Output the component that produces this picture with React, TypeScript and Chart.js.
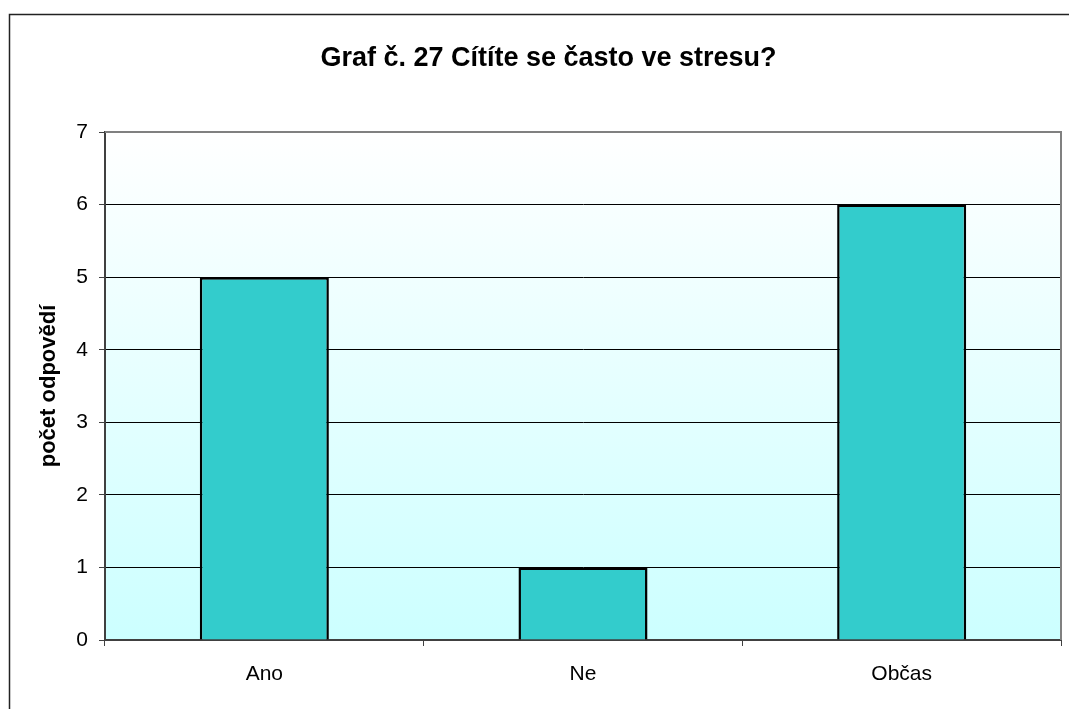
import React, { useEffect, useRef } from "react";
import { Chart, registerables } from "chart.js";

Chart.register(...registerables);

const categories = ["Ano", "Ne", "Občas"];
const counts = [5, 1, 6];
const chartTitle = "Graf č. 27 Cítíte se často ve stresu?";
const yAxisTitle = "počet odpovědí";
const yMin = 0;
const yMax = 7;
const yStep = 1;

const FONT = "'Liberation Sans', Arial, Helvetica, sans-serif";

const decorPlugin = {
  id: "decor",
  beforeDraw(chart: any) {
    const { ctx, chartArea, width, height } = chart;
    ctx.save();
    ctx.fillStyle = "#ffffff";
    ctx.fillRect(0, 0, width, height);
    // outer frame
    ctx.strokeStyle = "#222222";
    ctx.lineWidth = 1.5;
    ctx.beginPath();
    ctx.moveTo(9.5, height + 2);
    ctx.lineTo(9.5, 14.5);
    ctx.lineTo(width + 2, 14.5);
    ctx.stroke();
    // plot gradient
    const g = ctx.createLinearGradient(0, chartArea.top, 0, chartArea.bottom);
    g.addColorStop(0, "#ffffff");
    g.addColorStop(1, "#ccffff");
    ctx.fillStyle = g;
    ctx.fillRect(chartArea.left, chartArea.top, chartArea.right - chartArea.left, chartArea.bottom - chartArea.top);
    ctx.restore();
  },
  afterDatasetsDraw(chart: any) {
    const { ctx, chartArea } = chart;
    ctx.save();
    ctx.strokeStyle = "#808080";
    ctx.lineWidth = 2;
    ctx.beginPath();
    ctx.moveTo(chartArea.left, chartArea.top);
    ctx.lineTo(chartArea.right, chartArea.top);
    ctx.lineTo(chartArea.right, chartArea.bottom);
    ctx.stroke();
    ctx.restore();
  },
};

export default function App() {
  const canvasRef = useRef<HTMLCanvasElement | null>(null);

  useEffect(() => {
    if (!canvasRef.current) return;
    const chart = new Chart(canvasRef.current, {
      type: "bar",
      data: {
        labels: categories,
        datasets: [
          {
            data: counts,
            backgroundColor: "#33cccc",
            borderColor: "#000000",
            borderWidth: 2.5,
            barPercentage: 0.405,
            categoryPercentage: 1,
          },
        ],
      },
      plugins: [decorPlugin],
      options: {
        responsive: false,
        animation: false,
        devicePixelRatio: 1,
        layout: { padding: { left: 36, right: 8, top: 0, bottom: 0 } },
        plugins: {
          legend: { display: false },
          tooltip: { enabled: false },
          title: {
            display: true,
            text: chartTitle,
            color: "#000000",
            font: { family: FONT, size: 27, weight: "bold", lineHeight: 1.2 },
            padding: { top: 42, bottom: 57.6 },
          },
        },
        scales: {
          x: {
            offset: true,
            grid: {
              display: true,
              drawOnChartArea: false,
              drawTicks: true,
              tickLength: 6,
              tickColor: "#404040",
              offset: true,
            },
            border: { display: true, color: "#404040", width: 2 },
            ticks: {
              color: "#000000",
              font: { family: FONT, size: 21 },
              padding: 16,
              maxRotation: 0,
            },
            afterFit(scale: any) {
              scale.height = 69;
            },
          },
          y: {
            min: yMin,
            max: yMax,
            grid: {
              color: (c: any) => (c.tick && c.tick.value === yMax ? "#808080" : "#000000"),
              lineWidth: 1,
              tickLength: 6,
              tickColor: "#404040",
            },
            border: { display: true, color: "#404040", width: 2 },
            ticks: {
              stepSize: yStep,
              color: "#000000",
              font: { family: FONT, size: 21 },
              padding: 11,
            },
            title: {
              display: true,
              text: yAxisTitle,
              color: "#000000",
              font: { family: FONT, size: 22, weight: "bold", lineHeight: 1.2 },
              padding: { top: 0, bottom: 0 },
            },
            afterFit(scale: any) {
              scale.width = 69;
            },
          },
        },
      },
    } as any);
    return () => chart.destroy();
  }, []);

  return (
    <div style={{ position: "fixed", left: 0, top: 0, width: 1069, height: 709, background: "#fff" }}>
      <canvas ref={canvasRef} width={1069} height={709} style={{ display: "block" }} />
    </div>
  );
}
